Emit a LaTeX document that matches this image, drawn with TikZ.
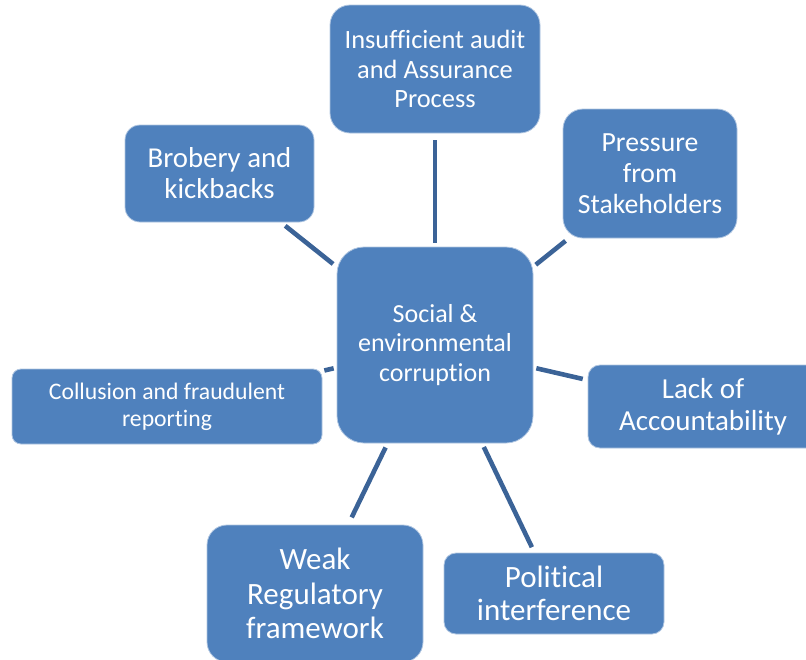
\documentclass[tikz,border=0pt]{standalone}
\usepackage{fontspec}
\usepackage{tikz}
\usepackage{xcolor}
\setmainfont{Carlito}[Ligatures=NoCommon]
\definecolor{boxfill}{HTML}{4F81BD}
\definecolor{linkcolor}{HTML}{3B6397}
\colorlet{boxedge}{boxfill!45!white}
\colorlet{boxtext}{white}
\newcommand{\fsz}[2]{\fontsize{#1}{#2}\selectfont}% font size, line skip
\tikzstyle{causebox} = [
    draw=boxedge,
    fill=boxfill,
    line width=0.8pt,
    text=boxtext,
    rectangle,
    align=center,
    inner sep=0pt
    ]
\tikzstyle{link} = [
    draw=linkcolor,
    line width=4.6pt,
    shorten <=4pt,
    shorten >=5pt
    ]

\begin{document}
\begin{tikzpicture}[x=1pt,y=-1pt]
\clip (0,0) rectangle (806,659);
% the hub
\node [causebox, rounded corners=27pt, minimum width=196pt, minimum height=196pt,
    font=\fsz{26}{29.5}] (hub) at (435,345) {Social \&\\environmental\\corruption};
% the causes round it
\node [causebox, rounded corners=20pt, minimum width=210pt, minimum height=128pt,
    font=\fsz{26.4}{29.5}] (audit) at (435,69) {Insufficient audit\\and Assurance\\Process};
\node [causebox, rounded corners=15pt, minimum width=189pt, minimum height=97pt,
    font=\fsz{28.8}{31}] (bribe) at (219.5,173.5) {Brobery and\\kickbacks};
\node [causebox, rounded corners=20pt, minimum width=174pt, minimum height=129pt,
    font=\fsz{27.7}{31}] (stake) at (650,173.5) {Pressure\\from\\Stakeholders};
\node [causebox, rounded corners=9pt, minimum width=310pt, minimum height=75pt,
    font=\fsz{23.7}{27}] (collusion) at (167,406.5) {Collusion and fraudulent\\reporting};
\node [causebox, rounded corners=12pt, minimum width=230pt, minimum height=83pt,
    font=\fsz{29}{32}] (account) at (703,406.5) {Lack of\\Accountability};
\node [causebox, rounded corners=20pt, minimum width=216pt, minimum height=137pt,
    font=\fsz{31}{34.5}] (weak) at (315,593.5) {Weak\\Regulatory\\framework};
\node [causebox, rounded corners=12pt, minimum width=220pt, minimum height=81pt,
    font=\fsz{31}{33}] (political) at (554,593.5) {Political\\interference};
% spokes
\draw [link, shorten >=7pt] (hub) -- (audit);
\draw [link, shorten <=4.5pt, shorten >=5.5pt] (hub) -- (bribe);
\draw [link, shorten <=3pt, shorten >=4pt] (hub) -- (stake);
\draw [link, shorten <=3pt, shorten >=2pt] (hub) -- (collusion);
\draw [link, shorten <=3pt, shorten >=5pt] (hub) -- (account);
\draw [link, shorten <=4.5pt, shorten >=8pt] (hub) -- (weak);
\draw [link, shorten <=4pt, shorten >=6pt] (hub) -- (political);
\end{tikzpicture}
\end{document}
